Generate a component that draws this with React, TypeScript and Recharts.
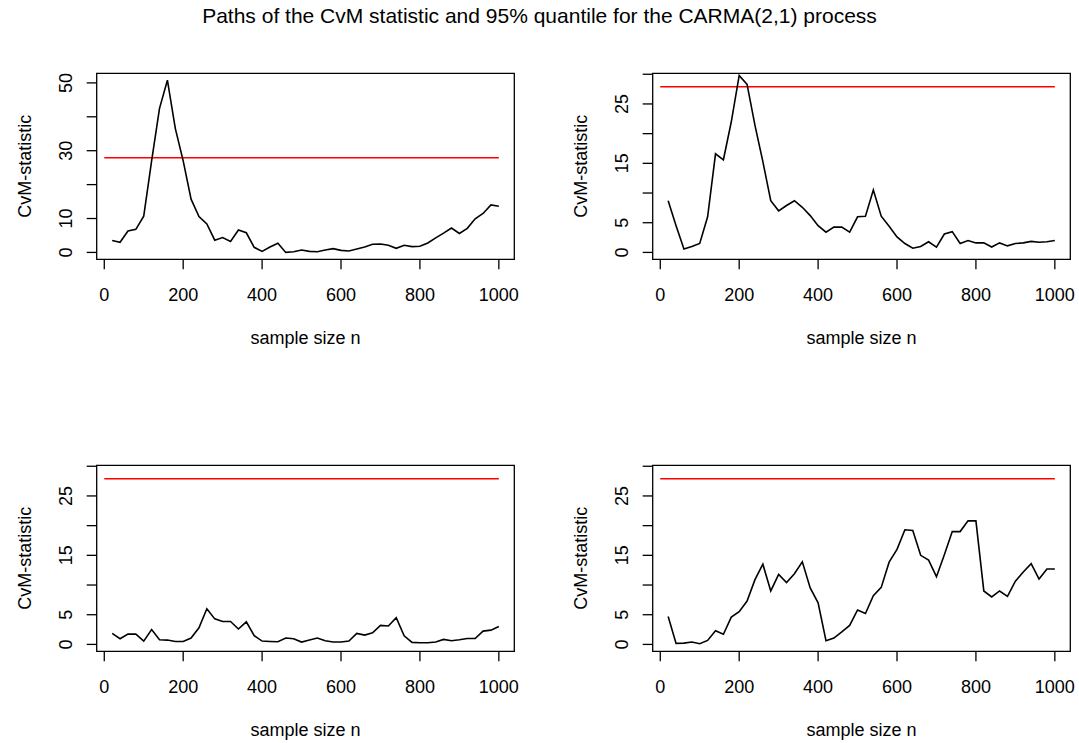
import React from 'react';
import { LineChart, Line, XAxis, YAxis, ReferenceLine, ReferenceArea } from 'recharts';

// ---------- data ----------
const sampleSizes = [
  20, 40, 60, 80, 100, 120, 140, 160, 180, 200,
  220, 240, 260, 280, 300, 320, 340, 360, 380, 400,
  420, 440, 460, 480, 500, 520, 540, 560, 580, 600,
  620, 640, 660, 680, 700, 720, 740, 760, 780, 800,
  820, 840, 860, 880, 900, 920, 940, 960, 980, 1000,
];

const cvmTopLeft = [
  3.5, 3.0, 6.3, 6.8, 10.7, 27.0, 42.5, 50.8, 36.6, 27.0,
  15.7, 10.6, 8.4, 3.6, 4.4, 3.2, 6.6, 5.8, 1.5, 0.3,
  1.6, 2.7, 0.0, 0.2, 0.7, 0.3, 0.2, 0.7, 1.1, 0.6,
  0.4, 1.0, 1.6, 2.4, 2.5, 2.1, 1.2, 2.1, 1.7, 1.8,
  2.8, 4.3, 5.7, 7.2, 5.6, 7.1, 9.9, 11.5, 14.0, 13.6,
];

const cvmTopRight = [
  8.7, 4.5, 0.56, 1.0, 1.5, 6.0, 16.6, 15.6, 22.0, 29.8,
  28.3, 21.4, 15.3, 8.7, 7.0, 7.9, 8.7, 7.6, 6.2, 4.5,
  3.4, 4.25, 4.25, 3.4, 6.0, 6.1, 10.5, 6.1, 4.4, 2.6,
  1.5, 0.7, 1.0, 1.8, 0.9, 3.1, 3.5, 1.5, 2.0, 1.6,
  1.6, 0.9, 1.6, 1.1, 1.5, 1.6, 1.85, 1.7, 1.8, 2.0,
];

const cvmBottomLeft = [
  1.85, 0.95, 1.74, 1.74, 0.56, 2.5, 0.78, 0.73, 0.5, 0.5,
  1.07, 2.8, 6.0, 4.3, 3.87, 3.87, 2.6, 3.8, 1.46, 0.56,
  0.5, 0.45, 1.07, 0.95, 0.4, 0.73, 1.07, 0.62, 0.4, 0.4,
  0.56, 1.85, 1.57, 1.96, 3.2, 3.1, 4.5, 1.46, 0.34, 0.28,
  0.28, 0.4, 0.84, 0.62, 0.78, 1.0, 1.0, 2.24, 2.4, 3.0,
];

const cvmBottomRight = [
  4.7, 0.17, 0.22, 0.4, 0.11, 0.67, 2.3, 1.7, 4.6, 5.5,
  7.3, 10.9, 13.5, 9.0, 11.8, 10.4, 11.9, 13.9, 9.5, 7.0,
  0.62, 1.07, 2.1, 3.2, 5.8, 5.2, 8.2, 9.6, 13.85, 16.0,
  19.3, 19.2, 15.0, 14.2, 11.4, 15.1, 19.0, 19.0, 20.8, 20.8,
  9.0, 8.0, 9.0, 8.1, 10.65, 12.2, 13.6, 11.0, 12.7, 12.7,
];

const quantile95 = 27.9;

const xTicks = [0, 200, 400, 600, 800, 1000];
const yTicksTop = [0, 10, 20, 30, 40, 50];
const yLabelsTop = [0, 10, 30, 50];
const yTicksOther = [0, 5, 10, 15, 20, 25, 30];
const yLabelsOther = [0, 5, 15, 25];

const titleText = 'Paths of the CvM statistic and 95% quantile for the CARMA(2,1) process';
const xTitleText = 'sample size n';
const yTitleText = 'CvM-statistic';

// ---------- layout / style ----------
const FONT = '"Liberation Sans", Arial, Helvetica, sans-serif';
const X_DOMAIN: [number, number] = [-19.2, 1039.2];
const Y_DOMAIN_TOP: [number, number] = [-2.03, 52.83];
const Y_DOMAIN_OTHER: [number, number] = [-1.16, 30.16];
const CHART_W = 540;
const CHART_H = 372;
const MARGIN = { top: 73.3, right: 25.7, bottom: 12.7, left: 0 };
const Y_AXIS_W = 96.7;
const X_AXIS_H = 100;
const COLS = [0, 555.6];
const ROWS = [0, 391.7];
const Y_TITLE_X = 31;

const XTick = (props: any) => (
  <text
    x={props.x}
    y={props.y + 31.7}
    textAnchor="middle"
    fontSize={18}
    fontFamily={FONT}
    fill="#000"
  >
    {props.payload.value}
  </text>
);

const makeYTick = (labels: number[]) => (props: any) => {
  const v = props.payload.value;
  if (!labels.includes(v)) return <g />;
  const x = props.x - 15;
  const y = props.y;
  return (
    <text
      x={x}
      y={y}
      transform={`rotate(-90, ${x}, ${y})`}
      textAnchor="middle"
      fontSize={18}
      fontFamily={FONT}
      fill="#000"
    >
      {v}
    </text>
  );
};

type PanelProps = {
  values: number[];
  yDomain: [number, number];
  yTicks: number[];
  yLabels: number[];
  left: number;
  top: number;
};

function Panel({ values, yDomain, yTicks, yLabels, left, top }: PanelProps) {
  const data = sampleSizes.map((n, i) => ({ n, v: values[i] }));
  const plotLeft = MARGIN.left + Y_AXIS_W;
  const plotRight = CHART_W - MARGIN.right;
  const plotTop = MARGIN.top;
  const plotBottom = CHART_H - MARGIN.bottom - X_AXIS_H;
  const yMid = (plotTop + plotBottom) / 2;
  return (
    <div style={{ position: 'absolute', left, top, width: CHART_W, height: CHART_H }}>
      <LineChart width={CHART_W} height={CHART_H} data={data} margin={MARGIN}>
        <XAxis
          dataKey="n"
          type="number"
          domain={X_DOMAIN}
          ticks={xTicks}
          interval={0}
          allowDataOverflow
          axisLine={false}
          tickLine={{ stroke: '#000', strokeWidth: 1.3 }}
          tickSize={10}
          tickMargin={0}
          height={X_AXIS_H}
          tick={XTick}
        />
        <YAxis
          type="number"
          domain={yDomain}
          ticks={yTicks}
          interval={0}
          allowDataOverflow
          axisLine={false}
          tickLine={{ stroke: '#000', strokeWidth: 1.3 }}
          tickSize={10}
          tickMargin={0}
          width={Y_AXIS_W}
          tick={makeYTick(yLabels)}
        />
        <ReferenceArea
          x1={X_DOMAIN[0]}
          x2={X_DOMAIN[1]}
          y1={yDomain[0]}
          y2={yDomain[1]}
          fill="none"
          fillOpacity={0}
          stroke="#000"
          strokeWidth={1.3}
          ifOverflow="visible"
        />
        <ReferenceLine
          segment={[
            { x: 0, y: quantile95 },
            { x: 1000, y: quantile95 },
          ]}
          stroke="#ff0000"
          strokeWidth={1.6}
        />
        <Line
          dataKey="v"
          type="linear"
          stroke="#000"
          strokeWidth={1.6}
          dot={false}
          activeDot={false}
          isAnimationActive={false}
        />
      </LineChart>
      <svg
        width={CHART_W}
        height={CHART_H}
        style={{ position: 'absolute', left: 0, top: 0, pointerEvents: 'none' }}
      >
        <text
          x={(plotLeft + plotRight) / 2}
          y={plotBottom + 84.7}
          textAnchor="middle"
          fontSize={18}
          fontFamily={FONT}
          fill="#000"
        >
          {xTitleText}
        </text>
        <text
          x={Y_TITLE_X}
          y={yMid}
          transform={`rotate(-90, ${Y_TITLE_X}, ${yMid})`}
          textAnchor="middle"
          fontSize={18}
          fontFamily={FONT}
          fill="#000"
        >
          {yTitleText}
        </text>
      </svg>
    </div>
  );
}

export default function App() {
  return (
    <div
      style={{
        position: 'absolute',
        left: 0,
        top: 0,
        width: 1079,
        height: 743,
        background: '#fff',
        overflow: 'hidden',
      }}
    >
      <svg width={1079} height={40} style={{ position: 'absolute', left: 0, top: 0 }}>
        <text x={539.5} y={22.5} textAnchor="middle" fontSize={21} fontFamily={FONT} fill="#000">
          {titleText}
        </text>
      </svg>
      <Panel values={cvmTopLeft} yDomain={Y_DOMAIN_TOP} yTicks={yTicksTop} yLabels={yLabelsTop} left={COLS[0]} top={ROWS[0]} />
      <Panel values={cvmTopRight} yDomain={Y_DOMAIN_OTHER} yTicks={yTicksOther} yLabels={yLabelsOther} left={COLS[1]} top={ROWS[0]} />
      <Panel values={cvmBottomLeft} yDomain={Y_DOMAIN_OTHER} yTicks={yTicksOther} yLabels={yLabelsOther} left={COLS[0]} top={ROWS[1]} />
      <Panel values={cvmBottomRight} yDomain={Y_DOMAIN_OTHER} yTicks={yTicksOther} yLabels={yLabelsOther} left={COLS[1]} top={ROWS[1]} />
    </div>
  );
}
